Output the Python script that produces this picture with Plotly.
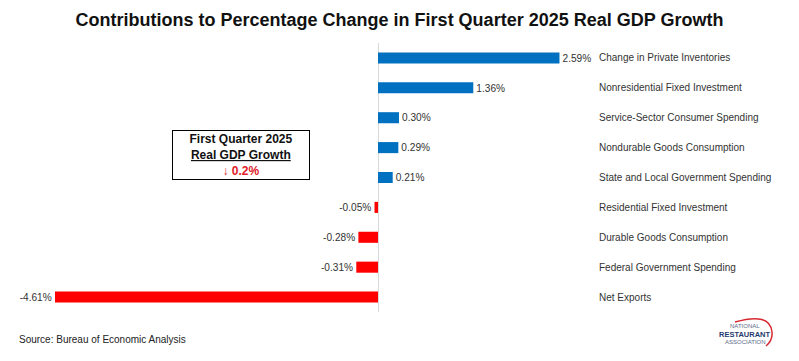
import plotly.graph_objects as go

categories = [
    "Change in Private Inventories",
    "Nonresidential Fixed Investment",
    "Service-Sector Consumer Spending",
    "Nondurable Goods Consumption",
    "State and Local Government Spending",
    "Residential Fixed Investment",
    "Durable Goods Consumption",
    "Federal Government Spending",
    "Net Exports",
]
values = [2.59, 1.36, 0.30, 0.29, 0.21, -0.05, -0.28, -0.31, -4.61]
value_labels = ["2.59%", "1.36%", "0.30%", "0.29%", "0.21%", "-0.05%", "-0.28%", "-0.31%", "-4.61%"]
colors = ["#0070C0" if v >= 0 else "#FF0000" for v in values]

FONT = "Liberation Sans, Arial, sans-serif"
TITLE_FONT = "Liberation Sans Narrow, Arial Narrow, Liberation Sans, Arial, sans-serif"

W, H = 799, 361
ml, mr, mt, mb = 0, 0, 43, 49
zero_px, px_per_unit = 378, 70.07
x0 = (0 - zero_px) / px_per_unit
x1 = (W - zero_px) / px_per_unit

fig = go.Figure()
fig.add_trace(go.Bar(
    y=categories, x=values, orientation="h",
    marker=dict(color=colors, line=dict(width=0)),
    width=0.37,
    text=value_labels, textposition="outside",
    textfont=dict(family=FONT, size=11, color="#333333"),
    cliponaxis=False, hoverinfo="skip",
))

label_x = (597 - zero_px) / px_per_unit
for c in categories:
    fig.add_annotation(x=label_x, y=c, xref="x", yref="y", text=c, showarrow=False,
                       xanchor="left", yanchor="middle",
                       font=dict(family=FONT, size=10, color="#333333"))

fig.add_annotation(
    x=241 / W, y=(H - mb - 155) / (H - mt - mb), xref="paper", yref="paper",
    text="<b>First Quarter 2025</b><br><b><u>Real GDP Growth</u></b><br><b><span style='color:#E0202A'>↓ 0.2%</span></b>",
    showarrow=False, align="center", xanchor="center", yanchor="middle",
    width=134, height=46, bordercolor="#000000", borderwidth=1, bgcolor="white",
    font=dict(family=TITLE_FONT, size=12, color="#111111"),
)

fig.add_annotation(x=17 / W, y=-(340 - (H - mb)) / (H - mt - mb), xref="paper", yref="paper",
                   text="Source: Bureau of Economic Analysis", showarrow=False,
                   xanchor="left", yanchor="middle",
                   font=dict(family=FONT, size=10, color="#222222"))

# logo
def py(p):
    return (H - mb - p) / (H - mt - mb)
fig.add_annotation(x=745 / W, y=py(326), xref="paper", yref="paper", text="NATIONAL", showarrow=False,
                   font=dict(family=FONT, size=6, color="#5a6a8a"), xanchor="center", yanchor="middle")
fig.add_annotation(x=745 / W, y=py(334), xref="paper", yref="paper", text="<b>RESTAURANT</b>", showarrow=False,
                   font=dict(family=FONT, size=7.5, color="#1f3a6e"), xanchor="center", yanchor="middle")
fig.add_annotation(x=745 / W, y=py(342), xref="paper", yref="paper", text="ASSOCIATION", showarrow=False,
                   font=dict(family=FONT, size=6, color="#5a6a8a"), xanchor="center", yanchor="middle")
fig.add_shape(type="path", xref="paper", yref="paper",
              path=f"M {735/W} {py(322)} Q {770/W} {py(312)} {772/W} {py(332)} Q {773/W} {py(340)} {766/W} {py(346)}",
              line=dict(color="#d8282f", width=1.5))

fig.update_layout(
    width=W, height=H,
    margin=dict(l=ml, r=mr, t=mt, b=mb),
    paper_bgcolor="white", plot_bgcolor="white",
    showlegend=False,
    title=dict(text="<b>Contributions to Percentage Change in First Quarter 2025 Real GDP Growth</b>",
               x=0.5, xanchor="center", y=1 - 20 / H, yanchor="middle",
               font=dict(family=TITLE_FONT, size=18, color="#111111")),
    xaxis=dict(range=[x0, x1], showgrid=False, showticklabels=False, ticks="",
               zeroline=True, zerolinecolor="#d9d9d9", zerolinewidth=1, fixedrange=True),
    yaxis=dict(autorange="reversed", showticklabels=False, showgrid=False, ticks="",
               zeroline=False, fixedrange=True),
)

fig.write_html("out.html", config={"displayModeBar": False},
               post_script="document.body.style.margin='0';document.body.style.padding='0';")
